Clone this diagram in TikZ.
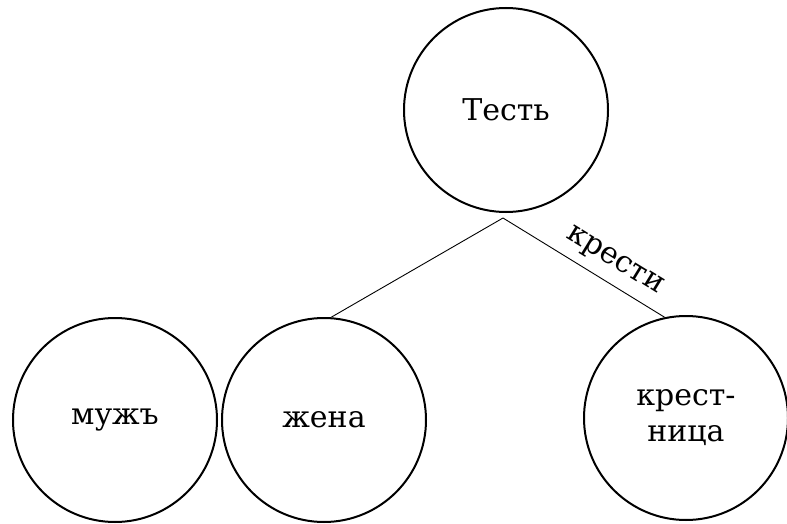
\documentclass[tikz,border=0pt]{standalone}
\usepackage{fontspec}
\setmainfont{DejaVu Serif}
\usetikzlibrary{positioning}

\begin{document}
\begin{tikzpicture}[x=1pt,y=-1pt,font=\fontsize{30}{36}\selectfont,
 person/.style={draw,circle,line width=2pt,minimum size=204pt,inner sep=0pt,align=center},
 link/.style={line width=0.9pt}]
\useasboundingbox (0,0) rectangle (787,524);
\node[person] (father) at (506,110) {Тесть};
\node[person] (husband) at (115,420) {мужъ};
\node[person] (wife) at (324,420) {жена};
\node[person] (godchild) at (686,418) {крест-\\ница};
\coordinate[below left=5pt and 3pt of father.south] (fork);
\draw[link] (fork) -- (wife.86);
\draw[link] (fork) -- node[pos=0.62,sloped,above=6pt] (baptised) {крести} (godchild.102);
\end{tikzpicture}
\end{document}
